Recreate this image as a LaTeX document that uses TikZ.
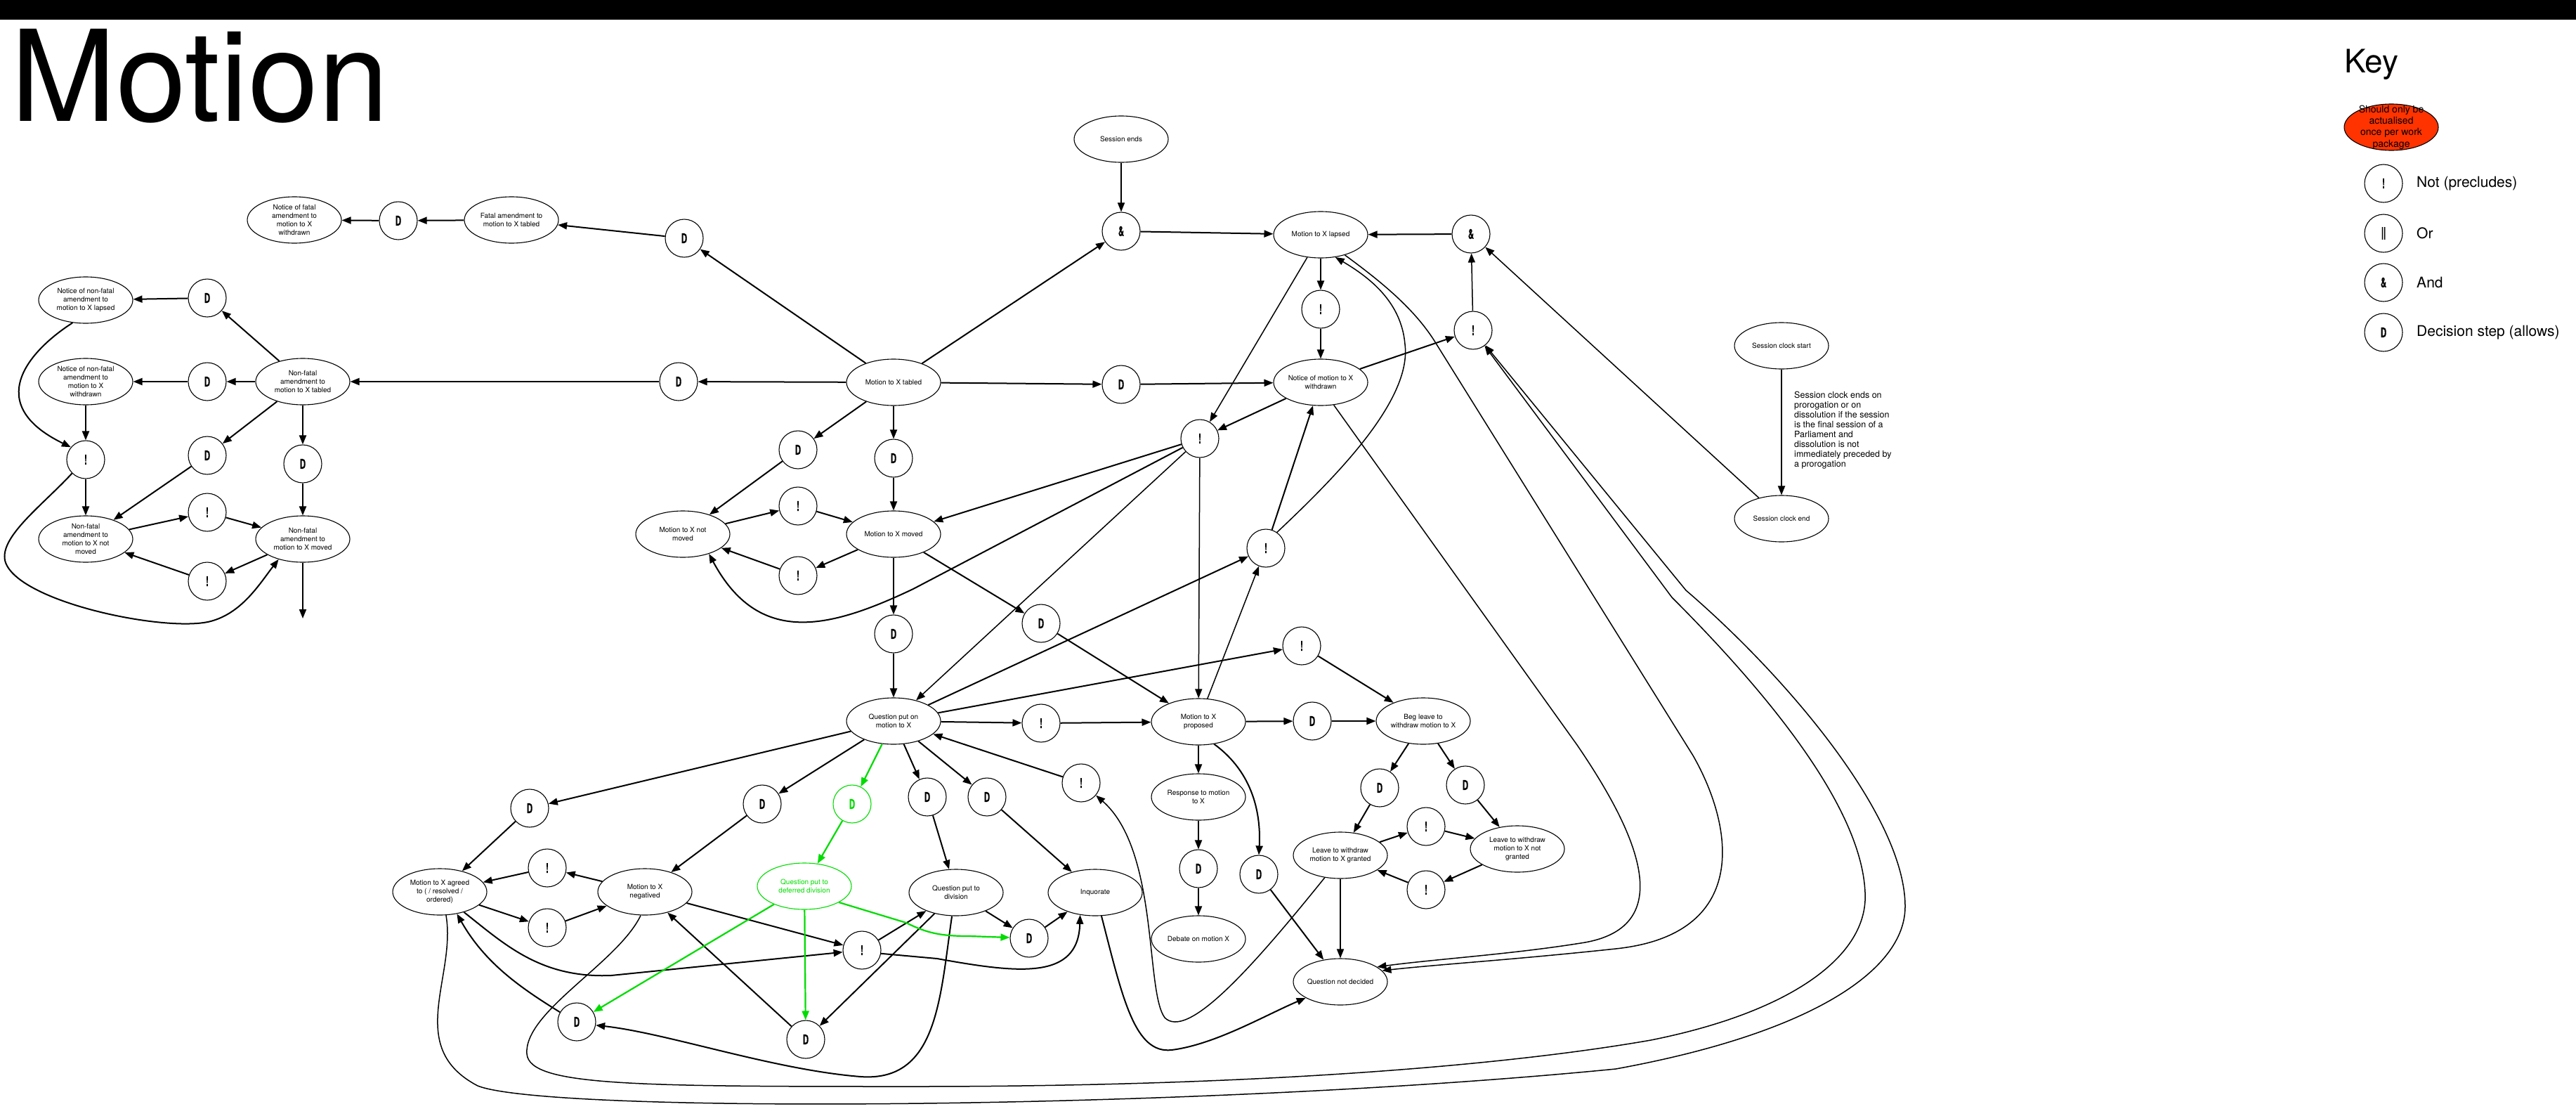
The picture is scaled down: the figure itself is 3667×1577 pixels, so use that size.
\documentclass[tikz,border=0pt]{standalone}
\usepackage{fontspec}
\setmainfont{TeX Gyre Heros}
\newfontfamily\gatefam[BoldFeatures={FakeBold=1.2}]{TeX Gyre Heros}
\usepackage{graphicx}
\usetikzlibrary{shapes.geometric,arrows.meta}
\definecolor{gr}{RGB}{0,220,0}
\definecolor{keyred}{RGB}{255,51,0}
\newcommand\gatefont{\gatefam\fontsize{19}{19}\selectfont\bfseries}
\newcommand\gl[1]{\scalebox{0.6}[1]{\gatefont #1}}
\tikzset{
  ev/.style={ellipse, draw, line width=1.1pt, minimum width=134pt, minimum height=66pt, inner sep=0pt},
  gate/.style={circle, draw, line width=1.1pt, minimum size=54pt, inner sep=0pt},
  lbl/.style={align=center, font=\fontsize{10}{12}\selectfont, inner sep=0pt},
  link/.style={line width=2pt, -{Triangle[length=13pt,width=10pt]}},
  fine/.style={line width=1.5pt},
  glink/.style={link, draw=gr, line width=2.2pt},
  keytxt/.style={anchor=west, inner sep=0pt, font=\fontsize{21}{24}\selectfont},
}
\newcommand\evnode[4][]{\node[ev,#1,label={[lbl]center:{#4}}] (#2) at (#3) {};}
\newcommand\gatenode[4][]{\node[gate,#1] (#2) at (#3) {\gl{#4}};}
\begin{document}
\begin{tikzpicture}[x=1pt,y=-1pt]
\useasboundingbox (0,0) rectangle (3667,1577);
\fill (0,0) rectangle (3667,28);
\node[anchor=base west, inner sep=0pt, font=\fontsize{180}{180}\selectfont] (title) at (15,172) {Motion};

% ---- amendments (left) ----
\evnode{nfw}{419,313}{Notice of fatal\\amendment to\\motion to X\\withdrawn}
\gatenode{dfw}{567,314}{D}
\evnode{fat}{728,313}{Fatal amendment to\\motion to X tabled}
\gatenode{dft}{974,339}{D}
\evnode{nlap}{122,427}{Notice of non-fatal\\amendment to\\motion to X lapsed}
\gatenode{dlap}{295,424}{D}
\evnode{nwd}{122,543}{Notice of non-fatal\\amendment to\\motion to X\\withdrawn}
\gatenode{dwd}{295,543}{D}
\evnode{nft}{431,543}{Non-fatal\\amendment to\\motion to X tabled}
\gatenode{nnot}{122,654}{!}
\gatenode{dnm}{295,648}{D}
\gatenode{dmv}{431,660}{D}
\evnode{nfnm}{122,767}{Non-fatal\\amendment to\\motion to X not\\moved}
\gatenode{nx1}{295,729}{!}
\evnode{nfm}{431,767}{Non-fatal\\amendment to\\motion to X moved}
\gatenode{nx2}{295,827}{!}
\coordinate (nfend) at (431,880);

% ---- motion tabled / moved ----
\gatenode{dnft}{966,543}{D}
\evnode{mt}{1272,544}{Motion to X tabled}
\evnode{sesend}{1596,198}{Session ends}
\gatenode{and1}{1596,329}{\&}
\gatenode{dnw}{1596,547}{D}
\evnode{mlap}{1880,334}{Motion to X lapsed}
\gatenode{xl}{1880,440}{!}
\evnode{nmw}{1880,544}{Notice of motion to X\\withdrawn}
\gatenode{and2}{2094,333}{\&}
\gatenode{xr}{2097,470}{!}
\evnode{scs}{2536,492}{Session clock start}
\evnode{sce}{2536,738}{Session clock end}
\node[anchor=north west, align=left, inner sep=0pt, font=\fontsize{12.5}{14}\selectfont] (scnote) at (2554,557)
  {Session clock ends on\\prorogation or on\\dissolution if the session\\is the final session of a\\Parliament and\\dissolution is not\\immediately preceded by\\a prorogation};
\gatenode{dnm2}{1136,640}{D}
\gatenode{dmv2}{1272,652}{D}
\evnode{mnm}{972,760}{Motion to X not\\moved}
\gatenode{x3}{1136,720}{!}
\evnode{mmv}{1272,760}{Motion to X moved}
\gatenode{x4}{1136,819}{!}
\gatenode{xc}{1708,624}{!}
\gatenode{dq}{1272,902}{D}
\gatenode{dp}{1482,887}{D}
\gatenode{xw}{1802,780}{!}
\gatenode{xb}{1853,919}{!}

% ---- question put ----
\evnode{qp}{1272,1026}{Question put on\\motion to X}
\gatenode{xm}{1482,1029}{!}
\evnode{mp}{1706,1027}{Motion to X\\proposed}
\gatenode{db}{1868,1026}{D}
\evnode{beg}{2026,1026}{Beg leave to\\withdraw motion to X}
\gatenode[draw=gr,text=gr]{dgr}{1213,1144}{D}
\gatenode{dqd}{1320,1134}{D}
\gatenode{dinq}{1405,1134}{D}
\gatenode{xi}{1539,1114}{!}
\evnode{resp}{1706,1134}{Response to motion\\to X}
\gatenode{dl}{1964,1121}{D}
\gatenode{dr}{2086,1117}{D}
\evnode{lg}{1908,1217}{Leave to withdraw\\motion to X granted}
\gatenode{xu}{2030,1176}{!}
\evnode{lng}{2160,1208}{Leave to withdraw\\motion to X not\\granted}
\gatenode{xd}{2030,1266}{!}
\gatenode{dresp}{1706,1236}{D}
\gatenode{dnd}{1792,1244}{D}
\evnode{qd}{1361,1270}{Question put to\\division}
\evnode{inq}{1559,1270}{Inquorate}
\gatenode{ddiv}{1465,1335}{D}
\gatenode{xq}{1227,1352}{!}
\evnode{deb}{1706,1336}{Debate on motion X}
\evnode{qnd}{1908,1397}{Question not decided}
\gatenode{dag}{754,1150}{D}
\gatenode{dneg}{1085,1144}{D}
\evnode{mag}{626,1269}{Motion to X agreed\\to ( / resolved /\\ordered)}
\gatenode{xa1}{779,1235}{!}
\gatenode{xa2}{779,1320}{!}
\evnode{mneg}{918,1269}{Motion to X\\negatived}
\node[ev, draw=gr, label={[lbl,text=gr]center:{Question put to\\deferred division}}] (qdd) at (1145,1261) {};
\gatenode{dll}{821,1454}{D}
\gatenode{dlb}{1147,1479}{D}

% ---- key ----
\node[anchor=base west, inner sep=0pt, font=\fontsize{46}{50}\selectfont] (keyttl) at (3337,103) {Key};
\node[ev, fill=keyred, label={[align=center, inner sep=0pt, font=\fontsize{14}{16.3}\selectfont]center:{Should only be\\actualised\\once per work\\package}}] (keyonce) at (3404,181) {};
\gatenode{k1}{3393,261}{!}
\gatenode{k2}{3393,332}{\textbar\textbar}
\gatenode{k3}{3393,402}{\&}
\gatenode{k4}{3393,473}{D}
\node[keytxt] (k1t) at (3440,261) {Not (precludes)};
\node[keytxt] (k2t) at (3440,332) {Or};
\node[keytxt] (k3t) at (3440,402) {And};
\node[keytxt] (k4t) at (3440,473) {Decision step (allows)};

% ---- straight connectors ----
\foreach \a/\b in {nft/dlap, dlap/nlap, nft/dwd, dwd/nwd, nft/dnm, dnm/nfnm, nft/dmv, dmv/nfm,
  nwd/nnot, nnot/nfnm, nfnm/nx1, nx1/nfm, nfm/nx2, nx2/nfnm, nfm/nfend,
  fat/dfw, dfw/nfw, dft/fat, mt/dft, mt/dnft, dnft/nft, mt/and1, and1/mlap, mt/dnw, dnw/nmw,
  mt/dnm2, dnm2/mnm, mt/dmv2, dmv2/mmv, mnm/x3, x3/mmv, mmv/x4, x4/mnm,
  mlap/xl, xl/nmw, nmw/xc, nmw/xr, and2/mlap, scs/sce, xc/mmv,
  mmv/dq, dq/qp, mmv/dp, dp/mp, qp/xw, xw/nmw, qp/xb, xb/beg, qp/xm, xm/mp, mp/db, db/beg,
  mp/resp, resp/dresp, dresp/deb, dnd/qnd, beg/dl, dl/lg, beg/dr, dr/lng,
  lg/xu, xu/lng, lng/xd, xd/lg, xi/qp, qp/dqd, dqd/qd, qp/dinq, dinq/inq,
  qp/dneg, dneg/mneg, qp/dag, dag/mag, qd/ddiv, ddiv/inq,
  mag/xa2, xa2/mneg, mneg/xa1, xa1/mag, mneg/xq, xq/qd, qd/dlb, dlb/mneg}
  \draw[link] (\a) -- (\b);
\foreach \a/\b in {sesend/and1, mlap/xc, xr/and2, sce/and2, xc/qp, xc/mp, mp/xw, lg/qnd}
  \draw[link,fine] (\a) -- (\b);

% ---- curved connectors ----
\draw[link] (nlap.240) .. controls (40,500) and (-25,575) .. (nnot.140);
\draw[link] (nnot.225) .. controls (60,720) and (-10,770) .. (10,805)
  .. controls (40,860) and (240,900) .. (300,884) .. controls (345,872) and (370,830) .. (nfm.220);
\draw[link] (xc) -- (1300,838) .. controls (1180,895) and (1080,920) .. (mnm.323);
\draw[link] (mp.-55) .. controls (1785,1100) and (1795,1160) .. (dnd.north);
\draw[link,fine] (lg.235) .. controls (1780,1380) and (1690,1480) .. (1658,1448)
  .. controls (1630,1410) and (1650,1210) .. (xi.-40);
\draw[link] (inq.-75) .. controls (1598,1420) and (1615,1500) .. (1668,1494)
  .. controls (1730,1486) and (1800,1445) .. (qnd.205);
\draw[link] (xq.-10) -- (1334,1364) .. controls (1450,1385) and (1535,1395) .. (inq.236);
\draw[link] (mag.-40) .. controls (720,1345) and (770,1392) .. (870,1388) -- (xq);
\draw[link] (dll.150) .. controls (740,1405) and (690,1370) .. (mag.-52);
\draw[link] (qd.-100) .. controls (1338,1420) and (1335,1540) .. (1225,1532)
  .. controls (1100,1522) and (950,1470) .. (dll.-10);
\draw[link,fine] (xw.55) .. controls (1900,680) and (2010,570) .. (2000,490)
  .. controls (1995,430) and (1950,395) .. (mlap.-57);
\draw[link,fine] (nmw.-60) -- (2245,1060) .. controls (2320,1170) and (2400,1320) .. (2250,1342)
  .. controls (2150,1358) and (2040,1365) .. (qnd.22);
\draw[link,fine] (mlap.-40) .. controls (1965,400) and (2015,440) .. (2045,490) -- (2410,1075)
  .. controls (2470,1180) and (2490,1330) .. (2300,1350) .. controls (2150,1366) and (2050,1372) .. (qnd.15);
\draw[link,fine] (mneg.-100) .. controls (880,1370) and (745,1440) .. (750,1500)
  .. controls (755,1545) and (900,1546) .. (1300,1546) .. controls (1800,1546) and (2150,1515) .. (2350,1480)
  .. controls (2550,1440) and (2660,1360) .. (2655,1270) .. controls (2650,1150) and (2520,990) .. (2380,850) -- (xr);
\draw[link,fine] (mag.-75) .. controls (650,1390) and (575,1490) .. (680,1545)
  .. controls (780,1585) and (1700,1580) .. (2300,1521) .. controls (2580,1470) and (2712,1380) .. (2712,1290)
  .. controls (2712,1160) and (2540,960) .. (2400,840) -- (xr);

% ---- deferred division (green) ----
\draw[glink] (qp) -- (dgr);
\draw[glink] (dgr) -- (qdd);
\draw[glink] (qdd) -- (dll);
\draw[glink] (qdd) -- (dlb);
\draw[glink] (qdd.-25) -- (1290,1313) .. controls (1320,1328) and (1340,1332) .. (1380,1332) -- (ddiv);
\end{tikzpicture}
\end{document}
